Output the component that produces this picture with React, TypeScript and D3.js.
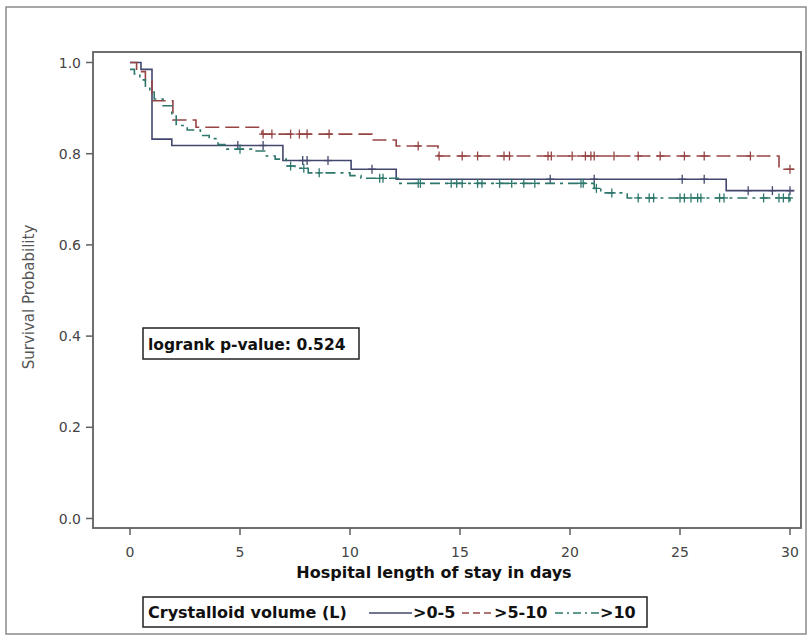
import React from 'react';
import * as d3 from 'd3';

// Kaplan-Meier steps: time (days) where survival changes, and the new value
const lowTimes = [0, 0.5, 1.0, 1.9, 6.95, 10.05, 12.1, 27.1];
const lowSurv = [1.0, 0.985, 0.832, 0.818, 0.785, 0.766, 0.744, 0.719];
const lowCensor = [4.9, 6.05, 7.85, 8.05, 9.0, 11.0, 19.1, 21.1, 25.1, 26.1, 28.1, 29.2, 30.0];

const midTimes = [0, 0.3, 0.7, 1.0, 1.95, 3.0, 6.0, 11.0, 12.1, 14.0, 29.5];
const midSurv = [1.0, 0.98, 0.96, 0.916, 0.874, 0.858, 0.843, 0.83, 0.817, 0.795, 0.766];
const midCensor = [6.05, 6.45, 7.3, 7.7, 8.05, 9.05, 13.1, 14.05, 15.1, 15.8, 17.0, 17.25, 19.0, 19.15, 20.1, 20.7, 20.95, 21.1, 22.0, 23.1, 24.1, 25.2, 26.1, 28.2, 30.0];

const highTimes = [0, 0.2, 0.45, 0.7, 0.9, 1.1, 1.5, 1.9, 2.1, 2.6, 3.2, 3.6, 4.0, 4.4, 5.6, 6.2, 6.6, 7.1, 7.5, 8.1, 10.0, 10.5, 12.2, 21.1, 21.4, 22.6, 30.0];
const highSurv = [0.985, 0.975, 0.962, 0.948, 0.935, 0.92, 0.905, 0.885, 0.862, 0.852, 0.84, 0.833, 0.82, 0.81, 0.806, 0.795, 0.788, 0.773, 0.768, 0.758, 0.752, 0.746, 0.735, 0.724, 0.714, 0.703, 0.695];
const highCensor = [5.0, 7.3, 7.9, 8.6, 11.35, 11.5, 13.1, 13.2, 14.6, 14.85, 15.1, 15.8, 16.0, 16.8, 17.35, 17.9, 18.4, 20.5, 20.6, 21.2, 21.9, 23.1, 23.6, 23.8, 25.0, 25.2, 25.5, 25.8, 25.95, 26.8, 27.0, 28.8, 29.5, 29.7, 29.95];

const groupLabels = ['>0-5', '>5-10', '>10'];
const xTicks = [0, 5, 10, 15, 20, 25, 30];
const yTicks = [0, 0.2, 0.4, 0.6, 0.8, 1.0];
const endDay = 30.2;

const groups = [
  { label: groupLabels[0], times: lowTimes, surv: lowSurv, censor: lowCensor, color: '#43476e', dash: null },
  { label: groupLabels[1], times: midTimes, surv: midSurv, censor: midCensor, color: '#964444', dash: '14,6' },
  { label: groupLabels[2], times: highTimes, surv: highSurv, censor: highCensor, color: '#2d776c', dash: '10,5,3,5' },
];

const App: React.FC = () => {
  const width = 809;
  const height = 637;
  const frame = { left: 93, right: 801, top: 52, bottom: 528 };

  const x = d3.scaleLinear().domain([0, 30]).range([130, 790]);
  const y = d3.scaleLinear().domain([0, 1]).range([518.5, 62.5]);

  const line = d3.line<[number, number]>()
    .x(d => x(d[0]))
    .y(d => y(d[1]))
    .curve(d3.curveStepAfter);

  // value of the step curve at time t, for placing censor ticks
  const survAt = (times: number[], surv: number[], t: number) => {
    const i = d3.bisectRight(times, t) - 1;
    return surv[Math.max(0, i)];
  };

  const tickFont = { fontFamily: 'DejaVu Sans', fontSize: 14, fill: '#444' };
  const boldFont = { fontFamily: 'DejaVu Sans', fontWeight: 'bold' as const, fill: '#111' };

  return (
    <svg width={width} height={height} style={{ position: 'absolute', left: 0, top: 0, background: '#fff' }}>
      {/* outer frame */}
      <rect x={6} y={7} width={800} height={627} fill="none" stroke="#8a8a8a" strokeWidth={1.5} />

      {/* plot frame */}
      <rect x={frame.left} y={frame.top} width={frame.right - frame.left} height={frame.bottom - frame.top}
        fill="none" stroke="#606060" strokeWidth={1.8} />

      {/* y axis */}
      {yTicks.map(t => (
        <g key={'y' + t}>
          <line x1={frame.left - 7} x2={frame.left} y1={y(t)} y2={y(t)} stroke="#606060" strokeWidth={1.5} />
          <text x={81} y={y(t)} dy="0.36em" textAnchor="end" {...tickFont}>{t.toFixed(1)}</text>
        </g>
      ))}
      <text transform={`translate(29,297) rotate(-90)`} textAnchor="middle" dy="0.35em"
        fontFamily="DejaVu Sans" fontSize={15} fill="#555">Survival Probability</text>

      {/* x axis */}
      {xTicks.map(t => (
        <g key={'x' + t}>
          <line x1={x(t)} x2={x(t)} y1={frame.bottom} y2={frame.bottom + 7} stroke="#606060" strokeWidth={1.5} />
          <text x={x(t)} y={552} dy="0.36em" textAnchor="middle" {...tickFont}>{t}</text>
        </g>
      ))}
      <text x={434} y={572} dy="0.36em" textAnchor="middle" fontSize={16} {...boldFont}>
        Hospital length of stay in days
      </text>

      {/* survival curves */}
      {groups.map(g => {
        const pts: [number, number][] = g.times.map((t, i) => [t, g.surv[i]] as [number, number]);
        pts.push([endDay, g.surv[g.surv.length - 1]]);
        return (
          <g key={g.label}>
            <path d={line(pts) || ''} fill="none" stroke={g.color} strokeWidth={1.6}
              strokeDasharray={g.dash || undefined} />
            {g.censor.map((c, i) => {
              const cx = x(c);
              const cy = y(survAt(g.times, g.surv, c));
              return (
                <g key={i} stroke={g.color} strokeWidth={1.3}>
                  <line x1={cx} x2={cx} y1={cy - 4.5} y2={cy + 4.5} />
                  <line x1={cx - 4} x2={cx + 4} y1={cy} y2={cy} />
                </g>
              );
            })}
          </g>
        );
      })}

      {/* logrank box */}
      <rect x={143} y={328} width={216} height={31} fill="#fff" stroke="#222" strokeWidth={1.5} />
      <text x={148} y={344} dy="0.36em" fontSize={15.5} {...boldFont}>logrank p-value: 0.524</text>

      {/* legend */}
      <rect x={143} y={597} width={504} height={30} fill="#fff" stroke="#222" strokeWidth={1.5} />
      <text x={148} y={612} dy="0.36em" fontSize={16} {...boldFont}>Crystalloid volume (L)</text>
      {[
        { x1: 369, x2: 412, tx: 413 },
        { x1: 462, x2: 493, tx: 494 },
        { x1: 555, x2: 599, tx: 600 },
      ].map((p, i) => (
        <g key={'leg' + i}>
          <line x1={p.x1} x2={p.x2} y1={613} y2={613} stroke={groups[i].color} strokeWidth={1.5}
            strokeDasharray={i === 1 ? '7,4' : i === 2 ? '8,4,2,4' : undefined} />
          <text x={p.tx} y={612} dy="0.36em" fontSize={16} {...boldFont}>{groups[i].label}</text>
        </g>
      ))}
    </svg>
  );
};

export default App;
